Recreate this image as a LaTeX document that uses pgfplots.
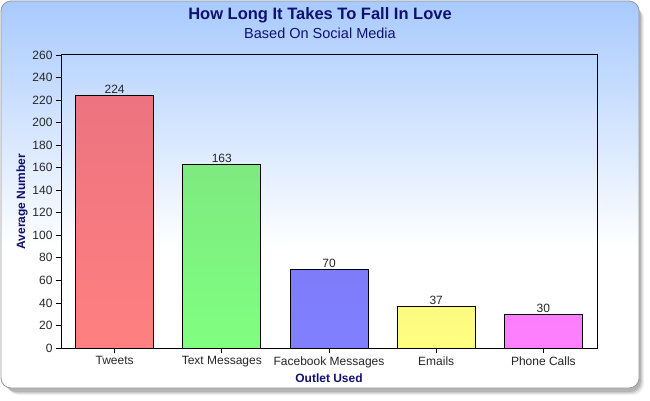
\documentclass[border=0pt]{standalone}
\usepackage{fontspec}
\setmainfont{Liberation Sans}
\usepackage{pgfplots}
\pgfplotsset{compat=1.18}

\definecolor{navy}{RGB}{16,16,110}
\definecolor{bgtop}{RGB}{168,202,255}
\definecolor{cardedge}{RGB}{150,150,150}
\definecolor{tint}{RGB}{100,20,128}
\definecolor{cRed}{RGB}{255,128,128}
\definecolor{cGreen}{RGB}{128,255,128}
\definecolor{cBlue}{RGB}{128,128,255}
\definecolor{cYellow}{RGB}{255,255,128}
\definecolor{cPink}{RGB}{255,128,255}

\pgfdeclareverticalshading{cardbg}{100bp}{color(0bp)=(white); color(25bp)=(white); color(43bp)=(white); color(75bp)=(bgtop); color(100bp)=(bgtop)}

\begin{document}
\begin{tikzpicture}[x=1bp,y=1bp]
\useasboundingbox (0,0) rectangle (650,400);
% drop shadow of the card
\foreach \d/\o in {7/0.05,6/0.07,5/0.09,4/0.12}
  \fill[black,opacity=\o,rounded corners=11bp] (1+\d,12-\d) rectangle (639+\d-2,399-\d);
% card
\shade[shading=cardbg,rounded corners=10bp] (1,12) rectangle (639,399);
\draw[cardedge,line width=0.8bp,rounded corners=10bp] (1,12) rectangle (639,399);

% titles
\node[text=navy,font=\bfseries\fontsize{16.5bp}{18bp}\selectfont] at (320,384.5) {How Long It Takes To Fall In Love};
\node[text=navy,font=\fontsize{14.5bp}{16bp}\selectfont] at (320,367) {Based On Social Media};

\begin{axis}[
  at={(61bp,52bp)}, anchor=south west,
  scale only axis, width=536bp, height=293bp,
  ymin=0, ymax=260, ytick distance=20,
  xmin=-0.5, xmax=4.5,
  xtick={0,1,2,3,4},
  xticklabels={Tweets,Text Messages,Facebook Messages,Emails,Phone Calls},
  tick align=outside, major tick length=5bp,
  xtick pos=bottom, ytick pos=left,
  tick style={black,line width=0.8bp},
  axis line style={black,line width=1bp},
  ticklabel style={font=\fontsize{12bp}{14bp}\selectfont,text=black!85},
  /pgf/number format/assume math mode=true,
  xlabel={Outlet Used}, ylabel={Average Number},
  label style={font=\bfseries\fontsize{12bp}{14bp}\selectfont,text=navy},
  xlabel style={at={(axis description cs:0.5,-0.1024)},anchor=center},
  ylabel style={at={(axis description cs:-0.0728,0.5)},anchor=center},
  ybar, bar width=78bp,
  nodes near coords,
  every node near coord/.append style={font=\fontsize{12bp}{14bp}\selectfont,text=black!85,inner sep=1.5bp},
]
\addplot[bar shift=0pt,draw=black,line width=0.9bp,top color=cRed!88!tint,bottom color=cRed] coordinates {(0,224)};
\addplot[bar shift=0pt,draw=black,line width=0.9bp,top color=cGreen!91!tint,bottom color=cGreen] coordinates {(1,163)};
\addplot[bar shift=0pt,draw=black,line width=0.9bp,top color=cBlue!96!tint,bottom color=cBlue] coordinates {(2,70)};
\addplot[bar shift=0pt,draw=black,line width=0.9bp,top color=cYellow!98!tint,bottom color=cYellow] coordinates {(3,37)};
\addplot[bar shift=0pt,draw=black,line width=0.9bp,top color=cPink!98!tint,bottom color=cPink] coordinates {(4,30)};
\end{axis}
\end{tikzpicture}
\end{document}
